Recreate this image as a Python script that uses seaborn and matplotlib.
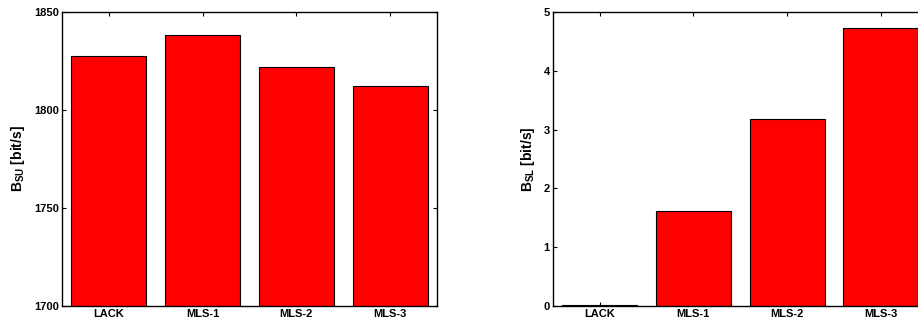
import seaborn as sns
import pandas as pd
import matplotlib.pyplot as plt

# data
schemes = ['LACK', 'MLS-1', 'MLS-2', 'MLS-3']
b_su = [1827.7, 1838.1, 1822.1, 1812.4]
b_sl = [0.02, 1.61, 3.18, 4.72]

sns.set_style('ticks')
plt.rcParams['font.family'] = ['Liberation Sans', 'DejaVu Sans']
plt.rcParams['font.weight'] = 'bold'
plt.rcParams['font.size'] = 8
plt.rcParams['text.color'] = 'black'
plt.rcParams['axes.labelcolor'] = 'black'
plt.rcParams['axes.edgecolor'] = 'black'
plt.rcParams['xtick.color'] = 'black'
plt.rcParams['ytick.color'] = 'black'
plt.rcParams['mathtext.fontset'] = 'custom'
plt.rcParams['mathtext.rm'] = 'Liberation Sans:bold'
plt.rcParams['mathtext.bf'] = 'Liberation Sans:bold'
plt.rcParams['mathtext.it'] = 'Liberation Sans:bold'

df1 = pd.DataFrame({'scheme': schemes, 'value': b_su})
df2 = pd.DataFrame({'scheme': schemes, 'value': b_sl})

fig = plt.figure(figsize=(9.18, 3.25), dpi=100)
ax1 = fig.add_axes([0.0675, 0.0585, 0.4085, 0.9046])
ax2 = fig.add_axes([0.602, 0.0585, 0.4085, 0.9046])


def draw(ax, df, ylim, yticks, ylabel):
    sns.barplot(data=df, x='scheme', y='value', order=schemes, ax=ax,
                color='red', saturation=1, edgecolor='black',
                linewidth=0.8, width=0.8)
    ax.set_xlim(-0.5, 3.5)
    ax.set_ylim(*ylim)
    ax.set_yticks(yticks)
    ax.set_xlabel('')
    ax.set_ylabel(ylabel, fontsize=10, fontweight='bold', labelpad=5)
    ax.tick_params(direction='in', top=True, right=True, length=3,
                   width=0.8, labelsize=8, pad=2, colors='black')
    for t in ax.get_xticklabels() + ax.get_yticklabels():
        t.set_fontweight('bold')
    for s in ax.spines.values():
        s.set_linewidth(1.0)
        s.set_visible(True)


draw(ax1, df1, (1700, 1850), [1700, 1750, 1800, 1850], r'B$_{SU}$ [bit/s]')
draw(ax2, df2, (0, 5), [0, 1, 2, 3, 4, 5], r'B$_{SL}$ [bit/s]')

fig.savefig('out.png', dpi=100)
